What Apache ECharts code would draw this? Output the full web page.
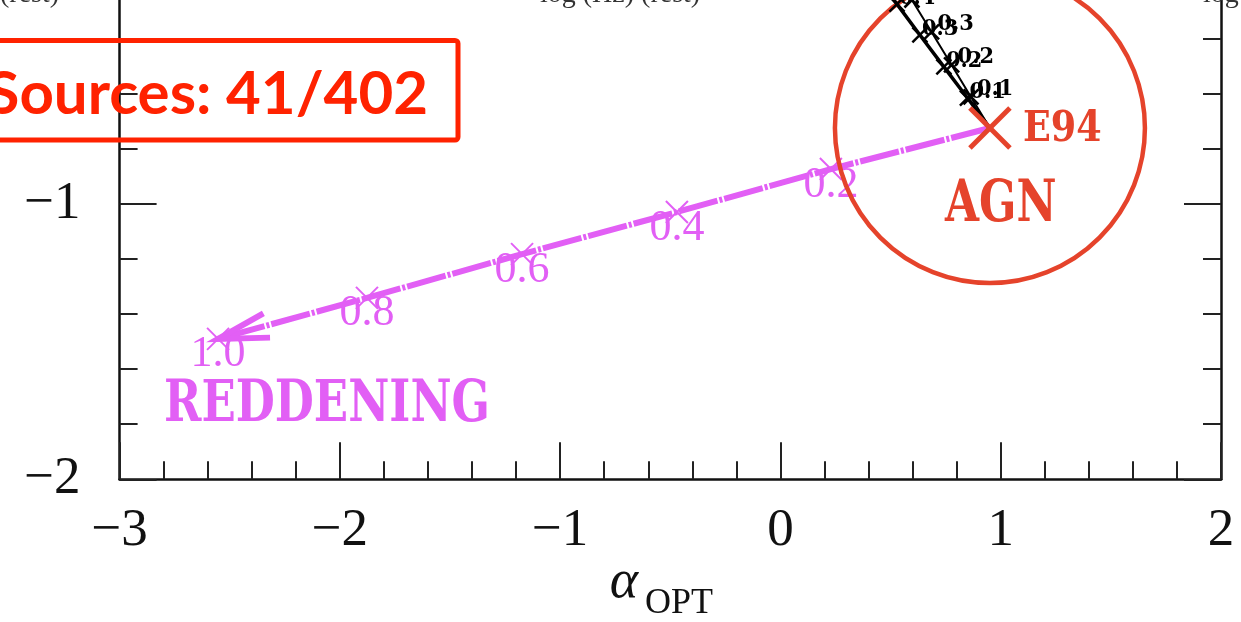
<!DOCTYPE html>
<html>
<head>
<meta charset="utf-8">
<script src="https://cdn.jsdelivr.net/npm/echarts@6/dist/echarts.min.js"></script>
<style>
  html, body { margin: 0; padding: 0; background: #fff; }
  #wrap { position: relative; width: 1241px; height: 622px; overflow: hidden; }
  #chart { position: absolute; left: 0; top: -100px; width: 1241px; height: 722px; }
</style>
</head>
<body>
<div id="wrap"><div id="chart"></div></div>
<script>
// Axis ranges
const xRange = [-3, 2];
const yRange = [-2, 0];

// E94 mean AGN SED position
const e94 = [0.951, -0.724];

// Reddening track, E(B-V) steps
const reddeningFrac = [0, 0.2, 0.4, 0.6, 0.8, 1.0];
const reddeningX = [0.951, 0.229, -0.470, -1.173, -1.877, -2.553];
const reddeningY = [-0.724, -0.873, -1.029, -1.182, -1.341, -1.490];

// Host-galaxy contamination tracks (two templates)
const hostFrac = [0, 0.1, 0.2, 0.3, 0.4, 0.5];
const hostAX = [0.951, 0.849, 0.742, 0.633, 0.529, 0.424];
const hostAY = [-0.724, -0.615, -0.502, -0.386, -0.274, -0.161];
const hostBX = [0.951, 0.865, 0.777, 0.686, 0.597, 0.506];
const hostBY = [-0.724, -0.611, -0.495, -0.375, -0.259, -0.143];

const MAG = '#e25ff5';
const RED = '#e5432b';
const BOX_RED = '#ff2200';
const SERIF = '"Liberation Serif", "DejaVu Serif", serif';
const SLAB = '"DejaVu Serif", serif';
// the canvas extends above the visible area by this much
const OFF = 100;

const rows = (xs, ys, fs) => xs.map((x, i) => [x, ys[i], fs[i]]);
const reddeningRows = rows(reddeningX, reddeningY, reddeningFrac);
const hostARows = rows(hostAX, hostAY, hostFrac);
const hostBRows = rows(hostBX, hostBY, hostFrac);

const minusFmt = v => (v < 0 ? '\u2212' + Math.abs(v) : String(v));

// X-shaped marker with an optional text label
function crossRenderer(size, width, color, labelOpt) {
  return function (params, api) {
    const p = api.coord([api.value(0), api.value(1)]);
    const h = size / 2;
    const children = [
      { type: 'line', shape: { x1: p[0] - h, y1: p[1] - h, x2: p[0] + h, y2: p[1] + h },
        style: { stroke: color, lineWidth: width } },
      { type: 'line', shape: { x1: p[0] - h, y1: p[1] + h, x2: p[0] + h, y2: p[1] - h },
        style: { stroke: color, lineWidth: width } }
    ];
    if (labelOpt) {
      children.push({
        type: 'text',
        x: p[0] + labelOpt.dx,
        y: p[1] + labelOpt.dy,
        scaleX: labelOpt.scaleX || 1,
        style: {
          text: labelOpt.text(api.value(2)),
          font: labelOpt.font,
          fill: labelOpt.color,
          align: labelOpt.align,
          verticalAlign: 'middle'
        }
      });
    }
    return { type: 'group', children };
  };
}

// Open arrowhead at the end of the reddening track
function arrowRenderer(params, api) {
  const tip = api.coord([api.value(0), api.value(1)]);
  const prev = api.coord([api.value(2), api.value(3)]);
  const ang = Math.atan2(prev[1] - tip[1], prev[0] - tip[0]);
  const len = 52, spread = 14 * Math.PI / 180;
  const a1 = [tip[0] + len * Math.cos(ang - spread), tip[1] + len * Math.sin(ang - spread)];
  const a2 = [tip[0] + len * Math.cos(ang + spread), tip[1] + len * Math.sin(ang + spread)];
  return {
    type: 'polyline',
    shape: { points: [a1, tip, a2] },
    style: { stroke: MAG, lineWidth: 6, fill: null, lineJoin: 'miter' }
  };
}

const axisCommon = {
  type: 'value',
  splitLine: { show: false },
  minorSplitLine: { show: false },
  axisLine: { show: true, onZero: false, lineStyle: { color: '#111', width: 2.5 } },
  axisTick: { show: true, inside: true, length: 37, lineStyle: { color: '#222', width: 2 } },
  minorTick: { show: true, splitNumber: 5, length: 18, lineStyle: { color: '#222', width: 2 } }
};

const chart = echarts.init(document.getElementById('chart'), null, { renderer: 'canvas' });

chart.setOption({
  animation: false,
  backgroundColor: '#fff',
  grid: { left: 119.6, right: 20, top: OFF - 71.3, bottom: 142.7, containLabel: false },
  xAxis: [
    Object.assign({}, axisCommon, {
      position: 'bottom', min: xRange[0], max: xRange[1], interval: 1,
      axisLabel: { show: true, margin: 25, formatter: minusFmt, fontFamily: SERIF, fontSize: 53, color: '#111',
                   showMinLabel: true, showMaxLabel: true }
    }),
    Object.assign({}, axisCommon, {
      position: 'top', min: xRange[0], max: xRange[1], interval: 1, axisLabel: { show: false }
    })
  ],
  yAxis: [
    Object.assign({}, axisCommon, {
      position: 'left', min: yRange[0], max: yRange[1], interval: 1,
      axisLabel: { show: true, margin: 39, formatter: minusFmt, fontFamily: SERIF, fontSize: 53, color: '#111' }
    }),
    Object.assign({}, axisCommon, {
      position: 'right', min: yRange[0], max: yRange[1], interval: 1, axisLabel: { show: false }
    })
  ],
  series: [
    {
      name: 'reddening', type: 'line', data: reddeningRows, symbol: 'none', silent: true, z: 2,
      lineStyle: { color: MAG, width: 6, type: [40, 2, 3, 2] }
    },
    {
      name: 'reddening steps', type: 'custom', z: 3, silent: true,
      data: reddeningRows.slice(1),
      renderItem: crossRenderer(22, 2, MAG, {
        text: v => v.toFixed(1), font: '44px ' + SERIF, color: MAG, dx: 0, dy: 16, align: 'center'
      })
    },
    {
      name: 'reddening arrow', type: 'custom', z: 3, silent: true,
      data: [[reddeningX[reddeningX.length - 1], reddeningY[reddeningY.length - 1],
              reddeningX[reddeningX.length - 2], reddeningY[reddeningY.length - 2]]],
      renderItem: arrowRenderer
    },
    {
      name: 'AGN region', type: 'scatter', data: [e94], symbol: 'circle', symbolSize: 310, silent: true, z: 4,
      itemStyle: { color: 'rgba(0,0,0,0)', borderColor: RED, borderWidth: 4.5, opacity: 1 }
    },
    {
      name: 'host A', type: 'line', data: hostARows, symbol: 'none', silent: true, z: 5,
      lineStyle: { color: '#000', width: 3.5 }
    },
    {
      name: 'host B', type: 'line', data: hostBRows, symbol: 'none', silent: true, z: 5,
      lineStyle: { color: '#000', width: 2 }
    },
    {
      name: 'host A steps', type: 'custom', z: 6, silent: true,
      data: hostARows.slice(1),
      renderItem: crossRenderer(15, 2.5, '#000', {
        text: v => v.toFixed(1), font: 'bold 22px ' + SLAB, color: '#000', dx: 2, dy: -6, align: 'left', scaleX: 0.95
      })
    },
    {
      name: 'host B steps', type: 'custom', z: 6, silent: true,
      data: hostBRows.slice(1),
      renderItem: crossRenderer(15, 2.5, '#000', {
        text: v => v.toFixed(1), font: 'bold 22px ' + SLAB, color: '#000', dx: 6, dy: -8, align: 'left', scaleX: 0.95
      })
    },
    {
      name: 'E94', type: 'custom', z: 7, silent: true,
      data: [[e94[0], e94[1], 0]],
      renderItem: crossRenderer(40, 5, RED, {
        text: () => 'E94', font: 'bold 43px ' + SLAB, color: RED, dx: 33, dy: 2, align: 'left', scaleX: 0.85
      })
    }
  ],
  graphic: [
    { type: 'text', x: 945, y: OFF + 206, z: 10, scaleX: 0.77,
      style: { text: 'AGN', font: 'bold 57px ' + SLAB, fill: RED, align: 'left', verticalAlign: 'middle' } },
    { type: 'text', x: 164, y: OFF + 406, z: 10, scaleX: 0.79,
      style: { text: 'REDDENING', font: 'bold 57px ' + SLAB, fill: MAG, align: 'left', verticalAlign: 'middle' } },
    { type: 'rect', z: 10,
      shape: { x: -20, y: OFF + 40.5, width: 478, height: 99.5, r: 3 },
      style: { fill: 'none', stroke: BOX_RED, lineWidth: 5 } },
    { type: 'text', z: 11, x: 428, y: OFF + 95,
      style: { text: 'Sources: 41/402', font: 'bold 60px Lato, "Open Sans", sans-serif', fill: BOX_RED,
               align: 'right', verticalAlign: 'middle' } },
    { type: 'text', z: 11, x: 624, y: OFF + 583,
      style: { text: '\u03B1', font: 'italic 54px ' + SERIF, fill: '#111', align: 'center', verticalAlign: 'middle' } },
    { type: 'text', z: 11, x: 645, y: OFF + 604,
      style: { text: 'OPT', font: '36px ' + SERIF, fill: '#111', align: 'left', verticalAlign: 'middle' } },
    { type: 'text', z: 11, x: 0, y: OFF + 9,
      style: { text: '(rest)', font: '28px ' + SERIF, fill: '#333', align: 'left', verticalAlign: 'bottom' } },
    { type: 'text', z: 11, x: 540, y: OFF + 9,
      style: { text: 'log (Hz) (rest)', font: '28px ' + SERIF, fill: '#333', align: 'left', verticalAlign: 'bottom' } },
    { type: 'text', z: 11, x: 1203, y: OFF + 9,
      style: { text: 'log', font: '28px ' + SERIF, fill: '#333', align: 'left', verticalAlign: 'bottom' } }
  ]
});
</script>
</body>
</html>
